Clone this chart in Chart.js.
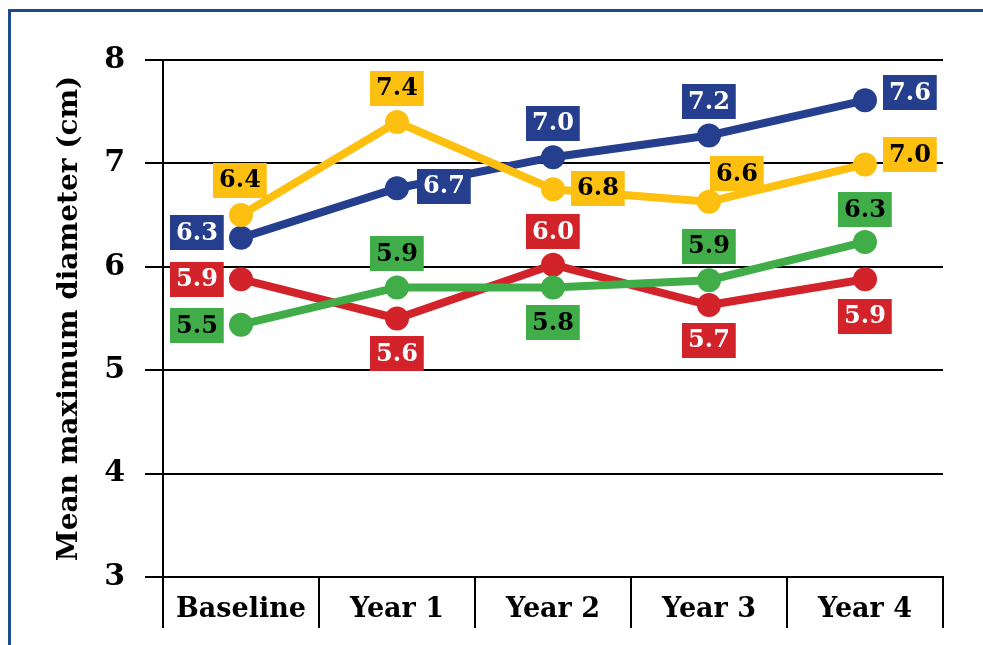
<!DOCTYPE html>
<html>
<head>
<meta charset="utf-8">
<script src="https://cdn.jsdelivr.net/npm/chart.js@4/dist/chart.umd.min.js"></script>
<style>
  html, body { margin: 0; padding: 0; background: #fff; overflow: hidden; }
  #wrap { position: relative; width: 983px; height: 645px; }
  #frame { position: absolute; left: 8px; top: 9px; width: 1100px; height: 800px; border: 3px solid #1f4a8a; box-sizing: border-box; }
  canvas { position: absolute; left: 0; top: 0; }
</style>
</head>
<body>
<div id="wrap">
  <div id="frame"></div>
  <canvas id="c" width="983" height="645"></canvas>
</div>
<script>
// ---- data ----
const categories = ["Baseline", "Year 1", "Year 2", "Year 3", "Year 4"];
const blueValues   = [6.28, 6.76, 7.06, 7.27, 7.61];
const yellowValues = [6.50, 7.40, 6.75, 6.63, 6.99];
const redValues    = [5.88, 5.50, 6.02, 5.63, 5.88];
const greenValues  = [5.44, 5.80, 5.80, 5.87, 6.24];
const blueLabels   = ["6.3", "6.7", "7.0", "7.2", "7.6"];
const yellowLabels = ["6.4", "7.4", "6.8", "6.6", "7.0"];
const redLabels    = ["5.9", "5.6", "6.0", "5.7", "5.9"];
const greenLabels  = ["5.5", "5.9", "5.8", "5.9", "6.3"];
const yTicks = [3, 4, 5, 6, 7, 8];

// ---- label placement (offset of label box centre from the point, px) ----
const blueOffsets   = [[-44, -5], [47, -2], [0, -34], [0, -34], [45, -8]];
const yellowOffsets = [[-1, -35], [0, -34], [45, -1], [28, -28], [45, -10]];
const redOffsets    = [[-44, 0], [0, 35], [0, -33], [0, 35], [0, 37]];
const greenOffsets  = [[-44, 1], [0, -34], [0, 35], [0, -34], [0, -32]];

const BLUE = "#253f8e", YELLOW = "#fdc010", RED = "#d2232a", GREEN = "#40ad48";
const SERIF = "'DejaVu Serif', 'Liberation Serif', serif";

function ds(values, color, labels, offsets, textColor) {
  return {
    data: values,
    borderColor: color,
    backgroundColor: color,
    borderWidth: 8,
    pointRadius: 12,
    pointHoverRadius: 12,
    pointBorderWidth: 0,
    pointBackgroundColor: color,
    tension: 0,
    fill: false,
    boxLabels: labels,
    boxOffsets: offsets,
    boxTextColor: textColor
  };
}

const boxLabelPlugin = {
  id: 'boxLabels',
  afterDatasetsDraw(chart) {
    const ctx = chart.ctx;
    const xs = chart.scales.x, ys = chart.scales.y;
    ctx.save();
    ctx.font = "bold 24px " + SERIF;
    ctx.textAlign = "center";
    ctx.textBaseline = "middle";
    for (let d = chart.data.datasets.length - 1; d >= 0; d--) {
      const set = chart.data.datasets[d];
      set.data.forEach((v, i) => {
        const px = xs.getPixelForValue(i);
        const py = ys.getPixelForValue(v);
        const cx = px + set.boxOffsets[i][0];
        const cy = py + set.boxOffsets[i][1];
        const txt = set.boxLabels[i];
        const w = Math.max(52, ctx.measureText(txt).width + 12);
        const h = 35;
        ctx.fillStyle = set.borderColor;
        ctx.fillRect(Math.round(cx - w / 2), Math.round(cy - h / 2), w, h);
        ctx.fillStyle = set.boxTextColor;
        ctx.fillText(txt, cx, cy + 1);
      });
    }
    ctx.restore();
  }
};

new Chart(document.getElementById('c'), {
  type: 'line',
  data: {
    labels: categories,
    datasets: [
      ds(yellowValues, YELLOW, yellowLabels, yellowOffsets, "#000"),
      ds(greenValues, GREEN, greenLabels, greenOffsets, "#000"),
      ds(blueValues, BLUE, blueLabels, blueOffsets, "#fff"),
      ds(redValues, RED, redLabels, redOffsets, "#fff")
    ]
  },
  options: {
    responsive: false,
    animation: false,
    events: [],
    layout: { padding: { top: 60, right: 40, left: 0, bottom: 0 } },
    plugins: { legend: { display: false }, tooltip: { enabled: false } },
    scales: {
      x: {
        type: 'category',
        offset: true,
        grid: { display: true, drawOnChartArea: false, drawTicks: true, offset: true, tickLength: 51, color: "#000", lineWidth: 2 },
        border: { display: true, color: "#000", width: 2 },
        ticks: { color: "#000", font: { family: SERIF, weight: 'bold', size: 27 }, padding: -34, maxRotation: 0, autoSkip: false },
        afterFit(scale) { scale.height = 68; }
      },
      y: {
        min: 3, max: 8,
        afterBuildTicks(scale) { scale.ticks = yTicks.map(v => ({ value: v })); },
        grid: { color: "#000", lineWidth: 2, drawTicks: true, tickLength: 18 },
        border: { display: true, color: "#000", width: 2 },
        ticks: { color: "#000", font: { family: SERIF, weight: 'bold', size: 30 }, padding: 20 },
        title: { display: true, text: "Mean maximum diameter (cm)", color: "#000", font: { family: SERIF, weight: 'bold', size: 28 }, padding: { top: 53, bottom: 0 } },
        afterFit(scale) { scale.width = 163; }
      }
    }
  },
  plugins: [boxLabelPlugin]
});
</script>
</body>
</html>
